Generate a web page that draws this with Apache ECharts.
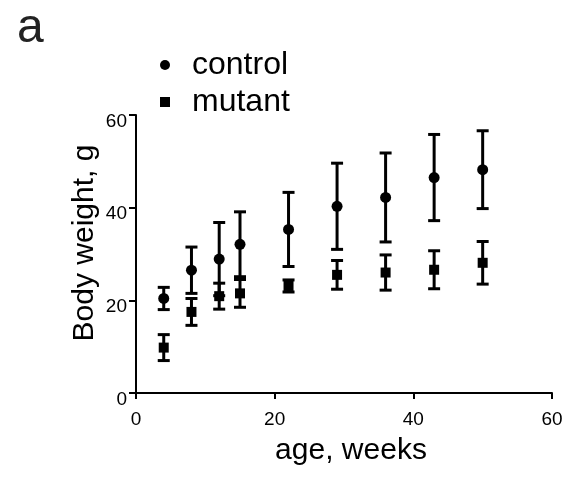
<!DOCTYPE html>
<html>
<head>
<meta charset="utf-8">
<script src="https://cdn.jsdelivr.net/npm/echarts@6/dist/echarts.min.js"></script>
<style>
  html, body { margin: 0; padding: 0; background: #fff; }
  #chart { width: 571px; height: 477px; }
</style>
</head>
<body>
<div id="chart"></div>
<script>
// 数据
var weeks = [4, 8, 12, 15, 22, 29, 36, 43, 50];
var controlMean = [20.4, 26.5, 28.9, 32.1, 35.3, 40.3, 42.2, 46.5, 48.2];
var controlErr = [2.4, 5.0, 7.9, 7.0, 8.0, 9.3, 9.6, 9.3, 8.4];
var mutantMean = [9.8, 17.5, 20.9, 21.5, 23.1, 25.5, 26.0, 26.6, 28.1];
var mutantErr = [2.8, 2.9, 2.8, 3.0, 1.3, 3.1, 3.8, 4.1, 4.6];
var xTicks = [0, 20, 40, 60];
var yTicks = [0, 20, 40, 60];

var font = 'Liberation Sans, Arial, sans-serif';

function pairs(means) {
  return weeks.map(function (w, i) { return [w, means[i]]; });
}
function errData(means, errs) {
  return weeks.map(function (w, i) { return [w, means[i] - errs[i], means[i] + errs[i]]; });
}

// 误差线
function renderErr(params, api) {
  var lo = api.coord([api.value(0), api.value(1)]);
  var hi = api.coord([api.value(0), api.value(2)]);
  var half = 6;
  var st = { stroke: '#000', lineWidth: 3 };
  return {
    type: 'group',
    children: [
      { type: 'line', shape: { x1: lo[0], y1: lo[1], x2: hi[0], y2: hi[1] }, style: st },
      { type: 'line', shape: { x1: lo[0] - half, y1: lo[1], x2: lo[0] + half, y2: lo[1] }, style: st },
      { type: 'line', shape: { x1: hi[0] - half, y1: hi[1], x2: hi[0] + half, y2: hi[1] }, style: st }
    ]
  };
}

var chart = echarts.init(document.getElementById('chart'));
chart.setOption({
  animation: false,
  backgroundColor: '#fff',
  title: {
    text: 'a',
    left: 12,
    top: 0,
    textStyle: { fontFamily: font, fontSize: 48, fontWeight: 'normal', color: '#222' }
  },
  legend: {
    orient: 'vertical',
    left: 155,
    top: 44,
    itemGap: 5,
    itemWidth: 10,
    itemHeight: 10,
    data: [
      { name: 'control', icon: 'circle' },
      { name: 'mutant', icon: 'rect' }
    ],
    textStyle: { fontFamily: font, fontSize: 32, color: '#000', padding: [0, 0, 0, 17] }
  },
  grid: { left: 136, right: 19, top: 115, bottom: 84 },
  xAxis: {
    type: 'value',
    min: 0, max: 60, interval: 20,
    name: 'age, weeks',
    nameLocation: 'middle',
    nameGap: 43,
    nameTextStyle: { fontFamily: font, fontSize: 30, color: '#000', padding: [0, 0, 0, 14] },
    axisLine: { onZero: false, lineStyle: { color: '#000', width: 2 } },
    axisTick: { inside: false, length: 6, lineStyle: { color: '#000', width: 2 } },
    axisLabel: {
      fontFamily: font, fontSize: 19, color: '#000', margin: 17,
      formatter: function (v) { return xTicks.indexOf(v) >= 0 ? String(v) : ''; }
    },
    splitLine: { show: false }
  },
  yAxis: {
    type: 'value',
    min: 0, max: 60, interval: 20,
    name: 'Body weight, g',
    nameLocation: 'middle',
    nameGap: 36,
    nameMoveOverlap: false,
    nameTextStyle: { fontFamily: font, fontSize: 30, color: '#000', padding: [0, 0, 0, 22] },
    axisLine: { show: true, onZero: false, lineStyle: { color: '#000', width: 2 } },
    axisTick: { show: true, inside: false, length: 7, lineStyle: { color: '#000', width: 2 } },
    axisLabel: {
      fontFamily: font, fontSize: 19, color: '#000', margin: 9,
      verticalAlign: 'top', padding: [-3, 0, 0, 0],
      formatter: function (v) { return yTicks.indexOf(v) >= 0 ? String(v) : ''; }
    },
    splitLine: { show: false }
  },
  series: [
    {
      name: 'control-err',
      type: 'custom',
      renderItem: renderErr,
      data: errData(controlMean, controlErr),
      encode: { x: 0, y: [1, 2] },
      z: 1
    },
    {
      name: 'mutant-err',
      type: 'custom',
      renderItem: renderErr,
      data: errData(mutantMean, mutantErr),
      encode: { x: 0, y: [1, 2] },
      z: 1
    },
    {
      name: 'control',
      type: 'scatter',
      symbol: 'circle',
      symbolSize: 11,
      itemStyle: { color: '#000', opacity: 1 },
      data: pairs(controlMean),
      z: 3
    },
    {
      name: 'mutant',
      type: 'scatter',
      symbol: 'rect',
      symbolSize: 10,
      itemStyle: { color: '#000', opacity: 1 },
      data: pairs(mutantMean),
      z: 3
    }
  ]
});
</script>
</body>
</html>
